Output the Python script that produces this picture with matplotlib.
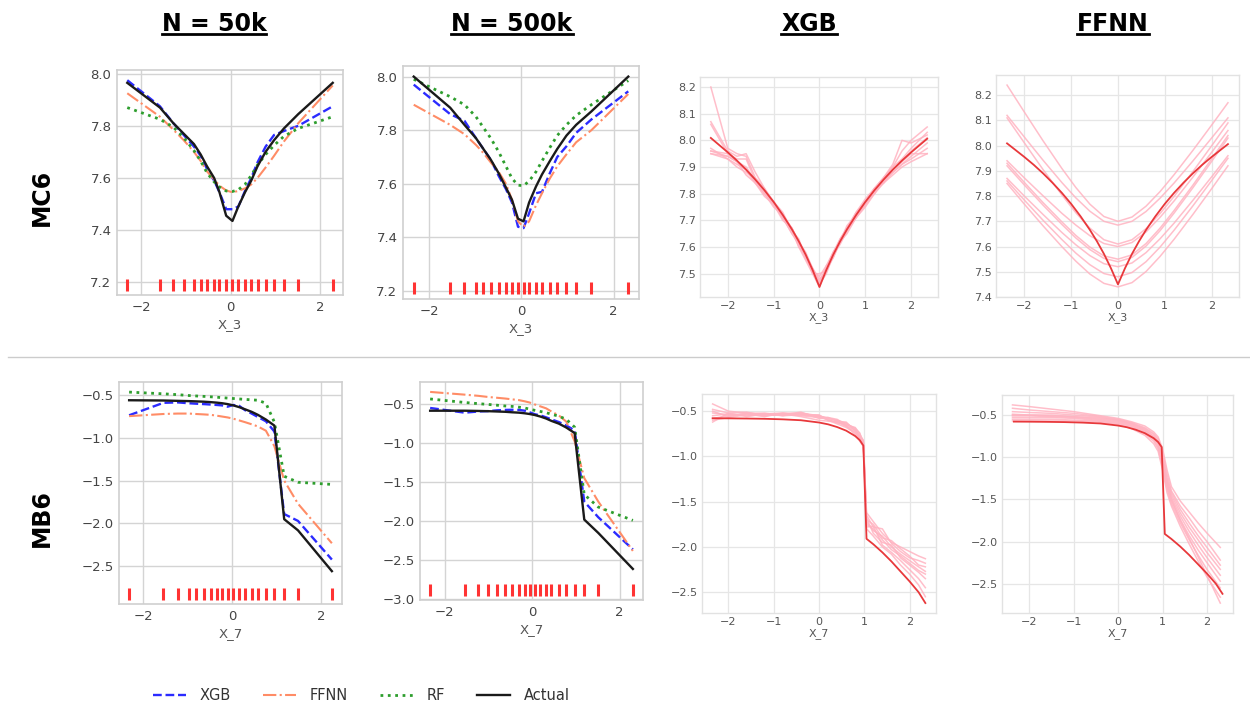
import numpy as np
import matplotlib
matplotlib.use('Agg')
import matplotlib.pyplot as plt
from matplotlib.lines import Line2D
from matplotlib.ticker import MultipleLocator

plt.rcParams['font.family'] = ['DejaVu Sans']

# ---------------- data ----------------
col_titles = ['N = 50k', 'N = 500k', 'XGB', 'FFNN']
row_titles = ['MC6', 'MB6']
x_labels = ['X_3', 'X_7']
model_names = ['XGB', 'FFNN', 'RF', 'Actual']

# MC6, N = 50k  (pdp grid == rug positions)
mc6_50k_x = [-2.31, -1.58, -1.28, -1.05, -0.82, -0.67, -0.53, -0.37, -0.25, -0.10,
             0.04, 0.17, 0.32, 0.46, 0.60, 0.78, 0.97, 1.19, 1.51, 2.28]
mc6_50k_xgb = [7.975, 7.875, 7.81, 7.765, 7.72, 7.685, 7.635, 7.59, 7.545, 7.48,
               7.48, 7.49, 7.55, 7.60, 7.66, 7.72, 7.765, 7.78, 7.80, 7.875]
mc6_50k_ffnn = [7.925, 7.835, 7.785, 7.745, 7.70, 7.665, 7.625, 7.595, 7.57, 7.552,
                7.545, 7.55, 7.56, 7.575, 7.60, 7.64, 7.685, 7.74, 7.81, 7.955]
mc6_50k_rf = [7.87, 7.825, 7.795, 7.755, 7.705, 7.665, 7.62, 7.585, 7.565, 7.55,
              7.548, 7.555, 7.575, 7.61, 7.65, 7.69, 7.725, 7.76, 7.79, 7.835]
mc6_50k_actual = [7.965, 7.87, 7.81, 7.77, 7.73, 7.69, 7.645, 7.60, 7.545, 7.455,
                  7.435, 7.49, 7.545, 7.59, 7.645, 7.70, 7.745, 7.79, 7.845, 7.965]
mc6_50k_rug = 7.19

# MC6, N = 500k
mc6_500k_x = [-2.33, -1.54, -1.23, -0.98, -0.82, -0.66, -0.49, -0.33, -0.20, -0.07,
              0.05, 0.17, 0.32, 0.45, 0.62, 0.78, 0.98, 1.19, 1.52, 2.32]
mc6_500k_xgb = [7.97, 7.86, 7.835, 7.77, 7.73, 7.69, 7.63, 7.58, 7.53, 7.44,
                7.435, 7.49, 7.565, 7.57, 7.64, 7.70, 7.74, 7.79, 7.84, 7.945]
mc6_500k_ffnn = [7.895, 7.82, 7.785, 7.745, 7.715, 7.68, 7.645, 7.60, 7.54, 7.46,
                 7.44, 7.46, 7.52, 7.565, 7.62, 7.665, 7.71, 7.755, 7.80, 7.935]
mc6_500k_rf = [7.99, 7.925, 7.895, 7.85, 7.81, 7.77, 7.72, 7.665, 7.62, 7.595,
               7.593, 7.61, 7.645, 7.685, 7.735, 7.78, 7.82, 7.855, 7.895, 7.985]
mc6_500k_actual = [8.0, 7.884, 7.82, 7.77, 7.73, 7.69, 7.64, 7.586, 7.54, 7.47,
                   7.46, 7.53, 7.59, 7.635, 7.685, 7.73, 7.78, 7.82, 7.87, 8.0]
mc6_500k_rug = 7.21

# MB6, N = 50k
mb6_50k_x = [-2.31, -1.54, -1.22, -0.97, -0.81, -0.63, -0.48, -0.34, -0.22, -0.10,
             0.03, 0.16, 0.29, 0.44, 0.58, 0.76, 0.95, 1.17, 1.48, 2.24]
mb6_50k_xgb = [-0.74, -0.595, -0.59, -0.60, -0.605, -0.61, -0.615, -0.62, -0.625, -0.64,
               -0.62, -0.63, -0.68, -0.72, -0.76, -0.81, -0.93, -1.89, -1.97, -2.42]
mb6_50k_ffnn = [-0.75, -0.725, -0.72, -0.72, -0.725, -0.73, -0.735, -0.745, -0.755, -0.765,
                -0.78, -0.80, -0.82, -0.845, -0.87, -0.92, -1.10, -1.50, -1.77, -2.23]
mb6_50k_rf = [-0.47, -0.49, -0.50, -0.51, -0.515, -0.52, -0.525, -0.53, -0.535, -0.54,
              -0.545, -0.55, -0.555, -0.56, -0.565, -0.60, -0.82, -1.45, -1.52, -1.545]
mb6_50k_actual = [-0.565, -0.568, -0.572, -0.575, -0.578, -0.582, -0.587, -0.593, -0.60, -0.61,
                  -0.625, -0.645, -0.67, -0.70, -0.735, -0.79, -0.86, -1.95, -2.08, -2.555]
mb6_50k_rug = -2.82

# MB6, N = 500k
mb6_500k_x = [-2.33, -1.54, -1.23, -1.00, -0.80, -0.61, -0.46, -0.30, -0.17, -0.06,
              0.06, 0.19, 0.32, 0.44, 0.61, 0.78, 0.97, 1.19, 1.51, 2.30]
mb6_500k_xgb = [-0.555, -0.615, -0.60, -0.595, -0.585, -0.58, -0.578, -0.58, -0.59, -0.61,
                -0.635, -0.65, -0.675, -0.70, -0.735, -0.78, -0.84, -1.75, -1.95, -2.36]
mb6_500k_ffnn = [-0.35, -0.385, -0.40, -0.415, -0.425, -0.435, -0.445, -0.455, -0.47, -0.485,
                 -0.51, -0.535, -0.56, -0.60, -0.65, -0.73, -0.98, -1.45, -1.75, -2.38]
mb6_500k_rf = [-0.44, -0.485, -0.50, -0.51, -0.52, -0.53, -0.535, -0.545, -0.555, -0.57,
               -0.585, -0.60, -0.615, -0.635, -0.66, -0.70, -0.80, -1.66, -1.82, -1.99]
mb6_500k_actual = [-0.59, -0.59, -0.593, -0.596, -0.60, -0.604, -0.61, -0.615, -0.623, -0.632,
                   -0.645, -0.665, -0.69, -0.72, -0.755, -0.805, -0.875, -1.98, -2.15, -2.61]
mb6_500k_rug = -2.88

# MC6 actual curve (right-hand columns)
mc6_true_x = [-2.37, -2.0, -1.8, -1.6, -1.4, -1.2, -1.0, -0.8, -0.6, -0.45, -0.3, -0.15, 0.0,
              0.15, 0.3, 0.45, 0.6, 0.8, 1.0, 1.2, 1.4, 1.6, 1.8, 2.0, 2.35]
mc6_true = [8.009, 7.955, 7.924, 7.890, 7.853, 7.813, 7.769, 7.720, 7.666, 7.621, 7.571, 7.514, 7.450,
            7.514, 7.571, 7.621, 7.666, 7.720, 7.769, 7.813, 7.853, 7.890, 7.924, 7.955, 8.006]

# MC6, XGB runs (same grid as mc6_true_x)
mc6_xgb_runs = [
    [8.20, 7.97, 7.95, 7.94, 7.86, 7.82, 7.77, 7.71, 7.67, 7.61, 7.57, 7.52, 7.46,
     7.50, 7.57, 7.62, 7.67, 7.73, 7.77, 7.82, 7.86, 7.89, 7.92, 7.95, 7.95],
    [8.07, 7.96, 7.94, 7.95, 7.88, 7.82, 7.76, 7.72, 7.67, 7.62, 7.58, 7.52, 7.47,
     7.52, 7.58, 7.63, 7.67, 7.71, 7.76, 7.81, 7.85, 7.90, 7.96, 8.00, 8.05],
    [8.06, 7.95, 7.93, 7.93, 7.85, 7.81, 7.77, 7.73, 7.66, 7.63, 7.56, 7.51, 7.49,
     7.53, 7.56, 7.62, 7.68, 7.72, 7.77, 7.80, 7.86, 7.90, 7.93, 7.97, 8.03],
    [7.96, 7.94, 7.92, 7.90, 7.85, 7.80, 7.77, 7.72, 7.67, 7.62, 7.57, 7.50, 7.50,
     7.51, 7.57, 7.61, 7.66, 7.72, 7.76, 7.82, 7.84, 7.88, 7.91, 7.94, 7.99],
    [7.95, 7.93, 7.91, 7.89, 7.84, 7.79, 7.76, 7.71, 7.65, 7.61, 7.56, 7.51, 7.46,
     7.52, 7.57, 7.63, 7.67, 7.73, 7.78, 7.82, 7.86, 7.91, 8.00, 7.99, 8.02],
    [7.97, 7.93, 7.90, 7.88, 7.85, 7.80, 7.75, 7.72, 7.66, 7.60, 7.55, 7.50, 7.45,
     7.53, 7.58, 7.62, 7.66, 7.71, 7.75, 7.80, 7.85, 7.88, 7.91, 7.93, 7.97],
    [7.95, 7.94, 7.92, 7.87, 7.84, 7.80, 7.76, 7.71, 7.65, 7.62, 7.56, 7.52, 7.48,
     7.51, 7.56, 7.62, 7.65, 7.71, 7.76, 7.80, 7.84, 7.87, 7.90, 7.92, 7.95],
    [7.96, 7.95, 7.92, 7.89, 7.84, 7.81, 7.76, 7.70, 7.67, 7.60, 7.57, 7.51, 7.47,
     7.52, 7.58, 7.62, 7.67, 7.72, 7.77, 7.81, 7.84, 7.89, 7.92, 7.96, 8.01],
]

# MC6, FFNN runs
mc6_ffnn_x = [-2.37, -2.0, -1.6, -1.2, -0.9, -0.6, -0.3, 0.0, 0.3, 0.6, 0.9, 1.2, 1.6, 2.0, 2.35]
mc6_ffnn_runs = [
    [8.24, 8.133, 8.019, 7.910, 7.834, 7.768, 7.719, 7.700, 7.717, 7.760, 7.818, 7.885, 7.981, 8.081, 8.17],
    [8.12, 8.034, 7.942, 7.854, 7.793, 7.740, 7.700, 7.685, 7.700, 7.739, 7.792, 7.852, 7.939, 8.030, 8.11],
    [8.11, 8.011, 7.905, 7.805, 7.734, 7.673, 7.627, 7.610, 7.627, 7.671, 7.731, 7.799, 7.897, 7.999, 8.09],
    [7.94, 7.872, 7.801, 7.732, 7.685, 7.643, 7.612, 7.600, 7.616, 7.658, 7.716, 7.781, 7.875, 7.973, 8.06],
    [7.93, 7.854, 7.774, 7.698, 7.644, 7.598, 7.563, 7.550, 7.567, 7.612, 7.673, 7.743, 7.843, 7.947, 8.04],
    [7.92, 7.844, 7.764, 7.688, 7.634, 7.588, 7.553, 7.540, 7.557, 7.602, 7.663, 7.733, 7.833, 7.937, 8.03],
    [7.87, 7.800, 7.727, 7.656, 7.607, 7.564, 7.532, 7.520, 7.535, 7.576, 7.631, 7.693, 7.783, 7.876, 7.96],
    [7.86, 7.784, 7.704, 7.628, 7.574, 7.528, 7.493, 7.480, 7.497, 7.540, 7.598, 7.665, 7.761, 7.861, 7.95],
    [7.85, 7.768, 7.682, 7.600, 7.542, 7.491, 7.454, 7.440, 7.457, 7.501, 7.561, 7.629, 7.727, 7.829, 7.92],
]

# MB6 actual curve (right-hand columns)
mb6_true_x = [-2.35, -2.0, -1.6, -1.2, -0.8, -0.4, 0.0, 0.2, 0.4, 0.6, 0.8, 0.9, 0.98,
              1.05, 1.2, 1.4, 1.6, 1.8, 2.0, 2.2, 2.35]
mb6_true = [-0.578, -0.579, -0.581, -0.584, -0.59, -0.60, -0.625, -0.645, -0.675, -0.715, -0.775, -0.82, -0.88,
            -1.91, -1.97, -2.06, -2.16, -2.27, -2.38, -2.50, -2.62]

# MB6, XGB runs (same grid as mb6_true_x)
mb6_xgb_runs = [
    [-0.42, -0.50, -0.52, -0.53, -0.52, -0.53, -0.55, -0.58, -0.60, -0.63, -0.70, -0.78, -0.85,
     -1.62, -1.72, -1.85, -1.95, -2.00, -2.05, -2.10, -2.13],
    [-0.48, -0.52, -0.51, -0.55, -0.53, -0.52, -0.56, -0.57, -0.59, -0.65, -0.68, -0.75, -0.83,
     -1.65, -1.78, -1.80, -1.96, -2.05, -2.12, -2.15, -2.18],
    [-0.52, -0.54, -0.53, -0.52, -0.55, -0.54, -0.54, -0.60, -0.62, -0.62, -0.72, -0.80, -0.87,
     -1.70, -1.75, -1.90, -1.93, -2.02, -2.10, -2.20, -2.22],
    [-0.55, -0.53, -0.55, -0.54, -0.54, -0.51, -0.58, -0.57, -0.61, -0.66, -0.71, -0.77, -0.82,
     -1.72, -1.82, -1.88, -2.00, -2.08, -2.15, -2.22, -2.27],
    [-0.58, -0.55, -0.53, -0.56, -0.52, -0.55, -0.57, -0.59, -0.63, -0.64, -0.69, -0.74, -0.86,
     -1.75, -1.80, -1.92, -2.03, -2.10, -2.18, -2.26, -2.30],
    [-0.60, -0.57, -0.54, -0.55, -0.53, -0.56, -0.60, -0.61, -0.62, -0.67, -0.73, -0.79, -0.88,
     -1.68, -1.85, -1.95, -1.98, -2.12, -2.20, -2.28, -2.35],
    [-0.62, -0.52, -0.56, -0.53, -0.55, -0.52, -0.55, -0.60, -0.64, -0.68, -0.74, -0.81, -0.84,
     -1.78, -1.77, -1.98, -2.06, -2.15, -2.25, -2.35, -2.45],
    [-0.50, -0.56, -0.52, -0.54, -0.53, -0.54, -0.56, -0.58, -0.60, -0.66, -0.76, -0.83, -0.89,
     -1.80, -1.88, -2.00, -2.08, -2.20, -2.30, -2.42, -2.55],
]

# MB6, FFNN runs
mb6_ffnn_x = [-2.38, -2.0, -1.5, -1.0, -0.5, 0.0, 0.3, 0.6, 0.8, 0.9, 1.0, 1.1, 1.2, 1.4, 1.6, 1.8, 2.0, 2.3]
mb6_ffnn_runs = [
    [-0.38, -0.40, -0.43, -0.46, -0.50, -0.54, -0.58, -0.63, -0.70, -0.76, -0.90, -1.15, -1.35, -1.52, -1.65, -1.78, -1.90, -2.07],
    [-0.42, -0.44, -0.46, -0.48, -0.51, -0.55, -0.59, -0.65, -0.72, -0.78, -0.95, -1.20, -1.40, -1.58, -1.72, -1.87, -2.00, -2.22],
    [-0.46, -0.47, -0.48, -0.50, -0.52, -0.56, -0.60, -0.66, -0.73, -0.80, -1.00, -1.25, -1.42, -1.62, -1.78, -1.93, -2.07, -2.28],
    [-0.49, -0.50, -0.50, -0.52, -0.54, -0.57, -0.61, -0.68, -0.75, -0.82, -1.02, -1.28, -1.45, -1.66, -1.83, -1.98, -2.13, -2.33],
    [-0.51, -0.51, -0.52, -0.53, -0.55, -0.58, -0.62, -0.69, -0.77, -0.85, -1.05, -1.32, -1.48, -1.70, -1.88, -2.04, -2.19, -2.40],
    [-0.53, -0.53, -0.53, -0.54, -0.56, -0.59, -0.63, -0.70, -0.79, -0.88, -1.08, -1.35, -1.52, -1.74, -1.93, -2.10, -2.25, -2.47],
    [-0.55, -0.55, -0.55, -0.56, -0.57, -0.60, -0.64, -0.72, -0.81, -0.90, -1.12, -1.38, -1.55, -1.78, -1.98, -2.16, -2.33, -2.55],
    [-0.57, -0.57, -0.57, -0.57, -0.58, -0.61, -0.66, -0.74, -0.84, -0.93, -1.15, -1.42, -1.58, -1.82, -2.03, -2.23, -2.42, -2.66],
    [-0.50, -0.50, -0.51, -0.52, -0.53, -0.56, -0.60, -0.67, -0.76, -0.84, -1.05, -1.30, -1.50, -1.75, -1.96, -2.18, -2.40, -2.73],
]

# ---------------- figure ----------------
W, H = 1250, 707
fig = plt.figure(figsize=(W / 100, H / 100), dpi=100)


def px_axes(left, top, right, bottom):
    return fig.add_axes([left / W, 1 - bottom / H, (right - left) / W, (bottom - top) / H])


styles = {
    'XGB': dict(color='#2b2bff', ls='--', lw=1.7),
    'FFNN': dict(color='#ff8c66', ls='-.', lw=1.5),
    'RF': dict(color='#2e9e2e', ls=':', lw=2.0),
    'Actual': dict(color='#1a1a1a', ls='-', lw=1.7),
}


def style_compare(ax, xstep, ystep, xlab):
    ax.set_facecolor('white')
    ax.grid(True, color='#d4d4d4', lw=1.0)
    ax.set_axisbelow(True)
    for s in ax.spines.values():
        s.set_color('#cfcfcf')
        s.set_linewidth(1.2)
    ax.tick_params(length=0, labelsize=9.5, labelcolor='#444444', pad=4)
    ax.xaxis.set_major_locator(MultipleLocator(xstep))
    ax.yaxis.set_major_locator(MultipleLocator(ystep))
    ax.set_xlabel(xlab, fontsize=9.5, color='#555555', labelpad=3)


def style_runs(ax, ystep, xlab):
    ax.set_facecolor('white')
    ax.grid(True, color='#e6e6e6', lw=0.9)
    ax.set_axisbelow(True)
    for s in ax.spines.values():
        s.set_color('#e2e2e2')
        s.set_linewidth(1.0)
    ax.tick_params(length=0, labelsize=8, labelcolor='#555555', pad=3)
    ax.xaxis.set_major_locator(MultipleLocator(1))
    ax.yaxis.set_major_locator(MultipleLocator(ystep))
    ax.set_xlabel(xlab, fontsize=8, color='#555555', labelpad=1)


def draw_compare(ax, x, xgb, ffnn, rf, actual, rug):
    ax.plot(x, xgb, label='XGB', **styles['XGB'])
    ax.plot(x, ffnn, label='FFNN', **styles['FFNN'])
    ax.plot(x, rf, label='RF', **styles['RF'])
    ax.plot(x, actual, label='Actual', **styles['Actual'])
    ax.plot(x, [rug] * len(x), '|', color='#ff3333', ms=9, mew=2.2)


def draw_runs(ax, x, runs, true_x, true_y):
    for r in runs:
        ax.plot(x, r, color='#ffb3c1', lw=1.1, alpha=0.85)
    ax.plot(true_x, true_y, color='#e8383b', lw=1.3)


# row 1 : MC6
ax1 = px_axes(117, 70, 343, 295)
draw_compare(ax1, mc6_50k_x, mc6_50k_xgb, mc6_50k_ffnn, mc6_50k_rf, mc6_50k_actual, mc6_50k_rug)
style_compare(ax1, 2, 0.2, x_labels[0])

ax2 = px_axes(403, 66, 639, 299)
draw_compare(ax2, mc6_500k_x, mc6_500k_xgb, mc6_500k_ffnn, mc6_500k_rf, mc6_500k_actual, mc6_500k_rug)
style_compare(ax2, 2, 0.2, x_labels[0])

ax3 = px_axes(700, 77, 938, 297)
draw_runs(ax3, mc6_true_x, mc6_xgb_runs, mc6_true_x, mc6_true)
style_runs(ax3, 0.1, x_labels[0])

ax4 = px_axes(996, 75, 1239, 297)
draw_runs(ax4, mc6_ffnn_x, mc6_ffnn_runs, mc6_true_x, mc6_true)
style_runs(ax4, 0.1, x_labels[0])

# row 2 : MB6
ax5 = px_axes(119, 382, 342, 604)
draw_compare(ax5, mb6_50k_x, mb6_50k_xgb, mb6_50k_ffnn, mb6_50k_rf, mb6_50k_actual, mb6_50k_rug)
style_compare(ax5, 2, 0.5, x_labels[1])

ax6 = px_axes(420, 382, 643, 600)
draw_compare(ax6, mb6_500k_x, mb6_500k_xgb, mb6_500k_ffnn, mb6_500k_rf, mb6_500k_actual, mb6_500k_rug)
style_compare(ax6, 2, 0.5, x_labels[1])

ax7 = px_axes(702, 394, 936, 613)
draw_runs(ax7, mb6_true_x, mb6_xgb_runs, mb6_true_x, mb6_true)
style_runs(ax7, 0.5, x_labels[1])

ax8 = px_axes(1002, 395, 1233, 613)
draw_runs(ax8, mb6_ffnn_x, mb6_ffnn_runs, mb6_true_x, mb6_true)
style_runs(ax8, 0.5, x_labels[1])

# column titles (bold, underlined)
title_x = [214, 512, 809, 1113]
titles = []
for name, cx in zip(col_titles, title_x):
    t = fig.text(cx / W, 1 - 31 / H, name, ha='center', va='baseline',
                 fontsize=17, fontweight='bold', color='black')
    titles.append(t)

# row labels
fig.text(42 / W, 1 - 197 / H, row_titles[0], rotation=90, ha='center', va='center',
         fontsize=17, fontweight='bold')
fig.text(42 / W, 1 - 518 / H, row_titles[1], rotation=90, ha='center', va='center',
         fontsize=17, fontweight='bold')

# separator between the rows
fig.add_artist(Line2D([8 / W, 1.0], [1 - 357 / H, 1 - 357 / H], transform=fig.transFigure,
                      color='#cccccc', lw=1.0))

# legend
handles, labels = ax1.get_legend_handles_labels()
fig.legend(handles, labels, loc='center', bbox_to_anchor=(361 / W, 1 - 696 / H), ncol=4,
           frameon=False, fontsize=10.5, handlelength=2.3, handletextpad=0.9,
           columnspacing=2.2, labelcolor='#333333')

# underline titles
fig.canvas.draw()
renderer = fig.canvas.get_renderer()
for t in titles:
    bb = t.get_window_extent(renderer)
    x0, x1 = bb.x0 / W, bb.x1 / W
    yy = 1 - 34 / H
    fig.add_artist(Line2D([x0, x1], [yy, yy], transform=fig.transFigure, color='black', lw=2.0))

fig.savefig('out.png', dpi=100)
